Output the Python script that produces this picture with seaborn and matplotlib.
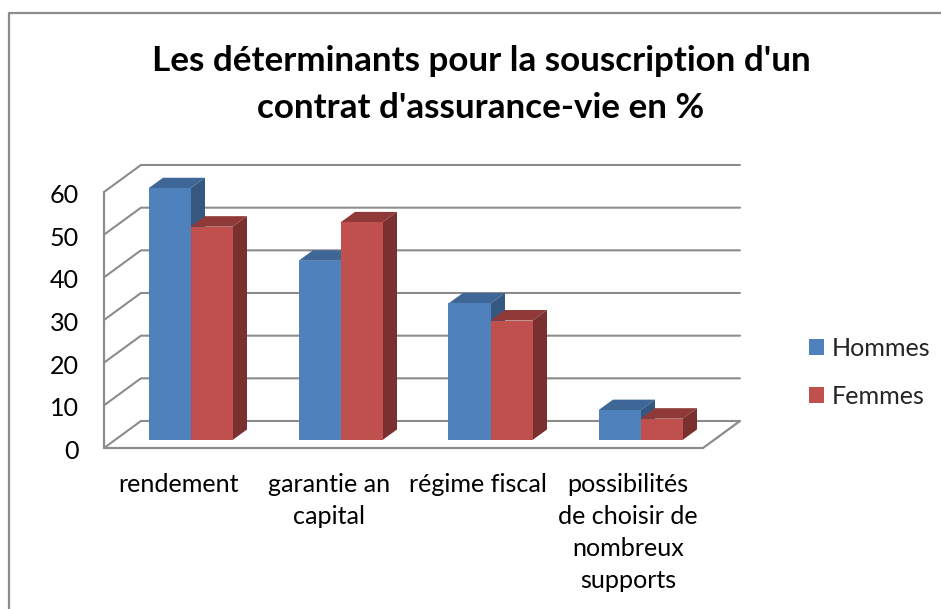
import matplotlib
matplotlib.use("Agg")
import matplotlib.pyplot as plt
from matplotlib.lines import Line2D
from matplotlib.patches import Patch, Polygon
from matplotlib.transforms import ScaledTranslation
import pandas as pd
import seaborn as sns

categories = ["rendement", "garantie an\ncapital", "régime fiscal",
              "possibilités\nde choisir de\nnombreux\nsupports"]
hommes = [59, 42, 32, 7]
femmes = [50, 51, 28, 5]
series_names = ["Hommes", "Femmes"]
title = "Les déterminants pour la souscription d'un\ncontrat d'assurance-vie en %"
y_ticks = [0, 10, 20, 30, 40, 50, 60]

W, H = 941, 609
FRONT = ["#4F81BD", "#C0504D"]
TOP = ["#3E6797", "#8F3A38"]
SIDE = ["#34587F", "#7A302E"]
GRID = "#8C8C8C"
LABEL_SIZE = 18.1

sns.set_theme(style="white")
plt.rcParams["font.family"] = ["Lato", "DejaVu Sans"]

df = pd.DataFrame({
    "cat": categories * 2,
    "val": hommes + femmes,
    "serie": [series_names[0]] * 4 + [series_names[1]] * 4,
})

fig = plt.figure(figsize=(W / 100, H / 100), dpi=100)


def rect(x0, x1, ytop, ybottom):
    return [x0 / W, 1 - ybottom / H, (x1 - x0) / W, (ybottom - ytop) / H]


# walls and axis labels (front plane)
ax = fig.add_axes(rect(104, 703, 192, 448))
ax.set_xlim(-0.5, 3.5)
ax.set_ylim(0, 60)
for s in ax.spines.values():
    s.set_visible(False)
ddx, ddy = 37 / 150, 27 / (256 / 60)
for v in y_ticks:
    ax.plot([-0.5, -0.5 + ddx, 3.5 + ddx], [v, v + ddy, v + ddy],
            color=GRID, lw=1.5, clip_on=False, solid_joinstyle="miter")
ax.plot([-0.5, -0.5], [0, 60], color=GRID, lw=1.6, clip_on=False)
ax.plot([-0.5, 3.5, 3.5 + ddx], [0, 0, ddy], color=GRID, lw=1.6, clip_on=False)
ax.set_xticks(range(4), categories)
ax.set_yticks(y_ticks)
ax.tick_params(axis="both", length=0, labelsize=LABEL_SIZE, labelcolor="black")
ax.tick_params(axis="y", pad=18)
ax.tick_params(axis="x", pad=18)
shift = ScaledTranslation(0, -1.5 / 100, fig.dpi_scale_trans)
for t in ax.get_yticklabels():
    t.set_transform(t.get_transform() + shift)
for t in ax.get_xticklabels():
    t.set_linespacing(1.47)
    t.set_va("top")

# bars (set back from the front plane)
axb = fig.add_axes(rect(115.5, 715.5, 184, 440))
axb.patch.set_alpha(0)
sns.barplot(data=df, x="cat", y="val", hue="serie", palette=FRONT, width=0.56,
            gap=0, saturation=1, legend=False, linewidth=0, edgecolor="none", ax=axb)
axb.set_xlim(-0.5, 3.5)
axb.set_ylim(0, 60)
axb.axis("off")
bdx, bdy = 14.5 / 150, 10.5 / (256 / 60)
for i, cont in enumerate(axb.containers):
    for bar in cont:
        x0, w, h = bar.get_x(), bar.get_width(), bar.get_height()
        x1 = x0 + w
        z = 3 + 2 * i
        axb.add_patch(Polygon([(x0, h), (x1, h), (x1 + bdx, h + bdy), (x0 + bdx, h + bdy)],
                              fc=TOP[i], ec="none", zorder=z, clip_on=False))
        axb.add_patch(Polygon([(x1, 0), (x1 + bdx, bdy), (x1 + bdx, h + bdy), (x1, h)],
                              fc=SIDE[i], ec="none", zorder=z, clip_on=False))
        bar.set_zorder(z + 1)

fig.text(481 / W, 1 - 84.5 / H, title, ha="center", va="center", fontsize=25.2,
         fontweight="bold", color="black", linespacing=1.6)

handles = [Patch(fc=FRONT[0], ec="none"), Patch(fc=FRONT[1], ec="none")]
fig.legend(handles, series_names, loc="center left",
           bbox_to_anchor=(809 / W, 1 - 372.5 / H), frameon=False, fontsize=LABEL_SIZE,
           handlelength=0.6, handleheight=0.6, handletextpad=0.32, labelspacing=1.02,
           borderpad=0, borderaxespad=0)

# chart frame
fig.add_artist(Line2D([9 / W, 9 / W, 1], [0, 1 - 13 / H, 1 - 13 / H], color="#8C8C8C", lw=1.6))

fig.savefig("out.png", dpi=100)
